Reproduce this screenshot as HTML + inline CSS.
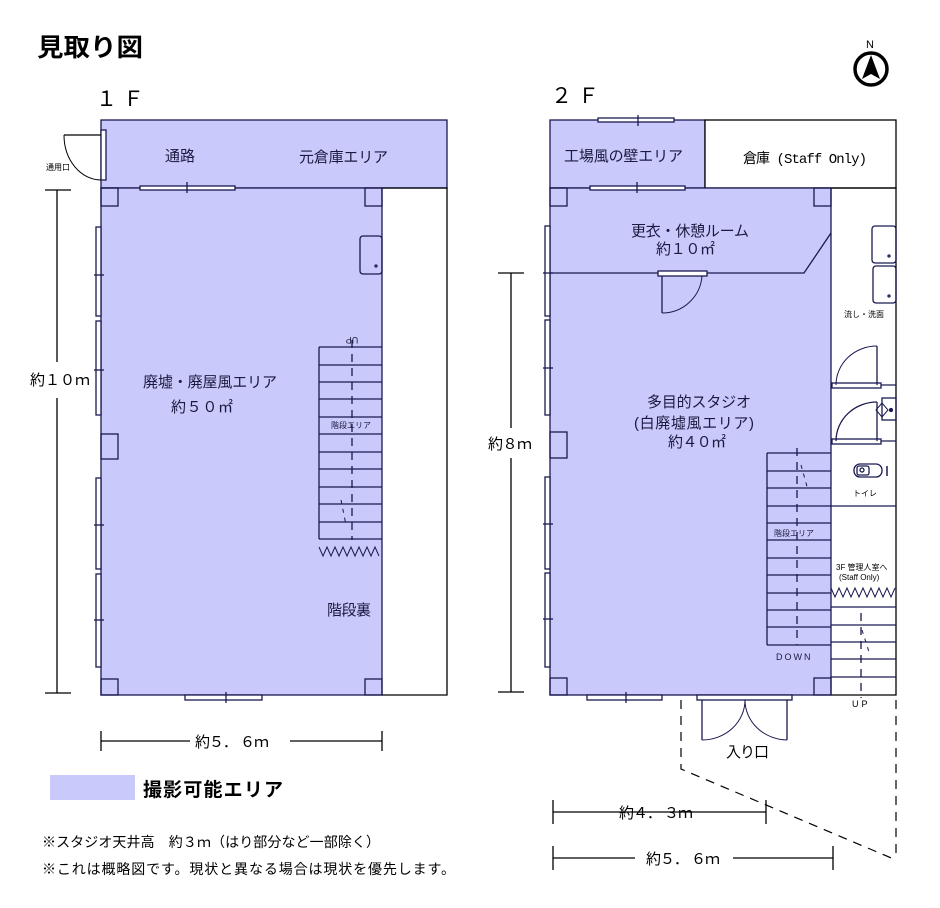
<!DOCTYPE html>
<html><head><meta charset="utf-8"><style>
html,body{margin:0;padding:0;background:#fff;}
svg{display:block;}
text{font-family:"Liberation Sans","Noto Sans CJK JP",sans-serif;fill:#1a1a40;}
</style></head><body>
<svg width="940" height="908" viewBox="0 0 940 908" xmlns="http://www.w3.org/2000/svg">
<g stroke="#1a1a50" stroke-width="1.3" fill="none">
<!-- ===== 1F ===== -->
<rect x="101" y="120" width="346" height="68" fill="#c9c9fb"/>
<rect x="101" y="188" width="281" height="507" fill="#c9c9fb"/>
<polyline points="382,188 447,188 447,695 382,695" stroke="#000"/>
<rect x="101" y="130" width="5" height="50" fill="#fff"/>
<line x1="64" y1="135" x2="101" y2="135" stroke="#000"/>
<path d="M64,135 A37,45 0 0 0 101,180" stroke="#000" stroke-width="1"/>
<rect x="140" y="186" width="95" height="4" fill="#fff"/>
<line x1="187" y1="182" x2="187" y2="193"/>
<rect x="101" y="188" width="17" height="18"/><rect x="365" y="188" width="17" height="18"/>
<rect x="101" y="679" width="17" height="16"/><rect x="365" y="679" width="17" height="16"/>
<rect x="101" y="434" width="17" height="25"/>
<rect x="360" y="236" width="22" height="38" rx="3"/>
<circle cx="376" cy="266" r="1"/>
<rect x="96" y="227" width="5" height="89" fill="#fff"/><rect x="96" y="321" width="5" height="94" fill="#fff"/>
<rect x="96" y="478" width="5" height="91" fill="#fff"/><rect x="96" y="574" width="5" height="93" fill="#fff"/>
<line x1="94" y1="275" x2="104" y2="275"/><line x1="94" y1="370" x2="104" y2="370"/>
<line x1="94" y1="525" x2="104" y2="525"/><line x1="94" y1="620" x2="104" y2="620"/>
<g>
<line x1="319" y1="347" x2="382" y2="347"/><line x1="319" y1="347" x2="319" y2="539"/>
<line x1="319" y1="365" x2="382" y2="365"/><line x1="319" y1="382" x2="382" y2="382"/>
<line x1="319" y1="399" x2="382" y2="399"/><line x1="319" y1="417" x2="382" y2="417"/>
<line x1="319" y1="434" x2="382" y2="434"/><line x1="319" y1="452" x2="382" y2="452"/>
<line x1="319" y1="469" x2="382" y2="469"/><line x1="319" y1="487" x2="382" y2="487"/>
<line x1="319" y1="504" x2="382" y2="504"/><line x1="319" y1="522" x2="382" y2="522"/>
<line x1="319" y1="539" x2="382" y2="539"/>
<line x1="352" y1="340" x2="352" y2="540" stroke-dasharray="8,6"/>
<path d="M319,547 l4,9 4,-9 4,9 4,-9 4,9 4,-9 4,9 4,-9 4,9 4,-9 4,9 4,-9 4,9 4,-9 4,9" stroke-width="1"/>
<line x1="341" y1="500" x2="346" y2="525" stroke-width="1" stroke-dasharray="4,5"/>
</g>
<rect x="185" y="695" width="77" height="5" fill="#fff"/>
<line x1="226" y1="692" x2="226" y2="703"/>
<g stroke="#000">
<line x1="57" y1="190" x2="57" y2="362"/><line x1="57" y1="398" x2="57" y2="693"/>
<line x1="45" y1="190" x2="71" y2="190"/><line x1="45" y1="693" x2="71" y2="693"/>
<line x1="101" y1="741" x2="190" y2="741"/><line x1="290" y1="741" x2="382" y2="741"/>
<line x1="101" y1="731" x2="101" y2="751"/><line x1="382" y1="731" x2="382" y2="751"/>
</g>

<!-- ===== 2F ===== -->
<rect x="550" y="120" width="155" height="68" fill="#c9c9fb"/>
<rect x="705" y="120" width="191" height="68" fill="#fff" stroke="#000"/>
<rect x="550" y="188" width="281" height="507" fill="#c9c9fb"/>
<polyline points="831,188 896,188 896,695 831,695" stroke="#000"/>
<polyline points="550,273 804,273 831,233"/>
<rect x="598" y="118" width="76" height="4" fill="#fff"/><line x1="638" y1="115" x2="638" y2="126"/>
<rect x="590" y="186" width="95" height="4" fill="#fff"/><line x1="637" y1="182" x2="637" y2="193"/>
<rect x="658" y="271" width="49" height="5" fill="#fff"/>
<line x1="662" y1="276" x2="662" y2="313"/>
<path d="M662,313 A40,40 0 0 0 702,276" stroke-width="1"/>
<rect x="550" y="188" width="17" height="18"/><rect x="814" y="188" width="17" height="18"/>
<rect x="550" y="678" width="17" height="17"/><rect x="814" y="678" width="17" height="17"/>
<rect x="550" y="432" width="17" height="26"/>
<rect x="545" y="226" width="5" height="90" fill="#fff"/><rect x="545" y="320" width="5" height="95" fill="#fff"/>
<rect x="545" y="477" width="5" height="92" fill="#fff"/><rect x="545" y="573" width="5" height="94" fill="#fff"/>
<line x1="543" y1="273" x2="553" y2="273"/><line x1="543" y1="368" x2="553" y2="368"/>
<line x1="543" y1="524" x2="553" y2="524"/><line x1="543" y1="619" x2="553" y2="619"/>
<rect x="872" y="226" width="24" height="37" rx="3"/><circle cx="889" cy="256" r="1"/>
<rect x="873" y="266" width="23" height="37" rx="3"/><circle cx="889" cy="296" r="1"/>
<line x1="831" y1="385" x2="896" y2="385"/><rect x="832" y="383" width="49" height="5" fill="#fff"/>
<line x1="877" y1="346" x2="877" y2="385"/><path d="M836,385 A41,39 0 0 1 877,346" stroke-width="1"/>
<line x1="831" y1="441" x2="896" y2="441"/><rect x="832" y="439" width="49" height="5" fill="#fff"/>
<line x1="877" y1="402" x2="877" y2="441"/><path d="M836,441 A41,39 0 0 1 877,402"/>
<rect x="882" y="398" width="14" height="22"/><path d="M876,410 l6,-7 6,7 -6,7z" stroke-width="1"/><circle cx="891" cy="410" r="1.5" fill="#1a1a50"/>
<line x1="831" y1="506" x2="896" y2="506"/>
<rect x="854" y="464" width="28" height="13" rx="6"/><rect x="857" y="466" width="12" height="9" rx="2"/><circle cx="862" cy="470" r="2"/>
<line x1="887" y1="466" x2="887" y2="476" stroke-width="1.5"/>
<path d="M831,588 l4,9 4,-9 4,9 4,-9 4,9 4,-9 4,9 4,-9 4,9 4,-9 4,9 4,-9 4,9 4,-9 4,9 4,-9" stroke-width="1"/>
<line x1="831" y1="607" x2="896" y2="607"/><line x1="831" y1="625" x2="896" y2="625"/>
<line x1="831" y1="642" x2="896" y2="642"/><line x1="831" y1="659" x2="896" y2="659"/>
<line x1="831" y1="677" x2="896" y2="677"/>
<line x1="861" y1="613" x2="861" y2="698" stroke-dasharray="8,6"/>
<line x1="862" y1="630" x2="870" y2="655" stroke-width="1" stroke-dasharray="4,5"/>
<line x1="767" y1="453" x2="831" y2="453"/><line x1="767" y1="453" x2="767" y2="645"/>
<line x1="767" y1="471" x2="831" y2="471"/><line x1="767" y1="488" x2="831" y2="488"/>
<line x1="767" y1="506" x2="831" y2="506"/><line x1="767" y1="523" x2="831" y2="523"/>
<line x1="767" y1="540" x2="831" y2="540"/><line x1="767" y1="558" x2="831" y2="558"/>
<line x1="767" y1="575" x2="831" y2="575"/><line x1="767" y1="593" x2="831" y2="593"/>
<line x1="767" y1="610" x2="831" y2="610"/><line x1="767" y1="627" x2="831" y2="627"/>
<line x1="767" y1="645" x2="831" y2="645"/>
<line x1="797" y1="448" x2="797" y2="645" stroke-dasharray="8,6"/>
<line x1="801" y1="465" x2="808" y2="490" stroke-width="1" stroke-dasharray="4,5"/>
<rect x="587" y="695" width="75" height="5" fill="#fff"/><line x1="626" y1="692" x2="626" y2="703"/>
<rect x="697" y="695" width="95" height="5" fill="#fff"/>
<line x1="702" y1="700" x2="702" y2="740"/><line x1="787" y1="700" x2="787" y2="740"/>
<path d="M702,740 A43,40 0 0 0 745,700" stroke-width="1"/>
<path d="M787,740 A43,40 0 0 1 745,700" stroke-width="1"/>
<g stroke="#000" stroke-dasharray="9,7" stroke-width="1.2">
<polyline points="681,700 681,769 896,860"/>
<line x1="896" y1="700" x2="896" y2="860"/>
</g>
<g stroke="#000">
<line x1="511" y1="273" x2="511" y2="428"/><line x1="511" y1="458" x2="511" y2="692"/>
<line x1="498" y1="273" x2="524" y2="273"/><line x1="498" y1="692" x2="524" y2="692"/>
<line x1="553" y1="812" x2="766" y2="812"/>
<line x1="553" y1="800" x2="553" y2="824"/><line x1="766" y1="800" x2="766" y2="824"/>
<line x1="553" y1="858" x2="635" y2="858"/><line x1="733" y1="858" x2="833" y2="858"/>
<line x1="553" y1="846" x2="553" y2="870"/><line x1="833" y1="846" x2="833" y2="870"/>
</g>
</g>
<rect x="50" y="775" width="85" height="25" fill="#c9c9fb"/>
<circle cx="871" cy="69" r="16" fill="none" stroke="#000" stroke-width="3.5"/>
<path d="M871,55 L880,79 L871,74 L862,79 Z" fill="#000"/>

<g>
<text x="37" y="56" font-size="25" font-weight="bold" textLength="106" lengthAdjust="spacingAndGlyphs" style="fill:#000">見取り図</text>
<text x="96" y="106" font-size="21" style="fill:#000">１ Ｆ</text>
<text x="551" y="103" font-size="21" style="fill:#000">２ Ｆ</text>
<text x="866" y="48" font-size="11" style="fill:#000">N</text>
<text x="46" y="170" font-size="8" style="fill:#000">通用口</text>
<text x="165" y="161" font-size="15" textLength="30">通路</text>
<text x="299" y="162" font-size="15" textLength="89">元倉庫エリア</text>
<text x="143" y="387" font-size="15" textLength="134">廃墟・廃屋風エリア</text>
<text x="171" y="412" font-size="15" textLength="62">約５０㎡</text>
<text x="352" y="329" font-size="9" text-anchor="middle" transform="rotate(180 352 333)">UP</text>
<text x="331" y="428" font-size="8">階段エリア</text>
<text x="327" y="615" font-size="15" textLength="44">階段裏</text>
<text x="30" y="385" font-size="15" textLength="60" style="fill:#000">約１０ｍ</text>
<text x="195" y="747" font-size="15" textLength="74" style="fill:#000">約５． ６ｍ</text>
<text x="564" y="161" font-size="15" textLength="119">工場風の壁エリア</text>
<text x="743" y="163" font-size="14" textLength="124" style="fill:#000;font-family:'Liberation Mono','Noto Sans CJK JP',monospace">倉庫 (Staff Only)</text>
<text x="631" y="236" font-size="15" textLength="118">更衣・休憩ルーム</text>
<text x="656" y="254" font-size="15" textLength="59">約１０㎡</text>
<text x="647" y="407" font-size="15" textLength="104">多目的スタジオ</text>
<text x="634" y="428" font-size="15" textLength="120">(白廃墟風エリア)</text>
<text x="668" y="447" font-size="15" textLength="58">約４０㎡</text>
<text x="488" y="449" font-size="15" textLength="44" style="fill:#000">約８ｍ</text>
<text x="844" y="317" font-size="8" style="fill:#000">流し・洗面</text>
<text x="853" y="496" font-size="8" style="fill:#000">トイレ</text>
<text x="836" y="570" font-size="8" style="fill:#000">3F 管理人室へ</text>
<text x="839" y="580" font-size="8" style="fill:#000">(Staff Only)</text>
<text x="774" y="536" font-size="8">階段エリア</text>
<text x="776" y="660" font-size="9" letter-spacing="2">DOWN</text>
<text x="852" y="707" font-size="9" letter-spacing="3" style="fill:#000">UP</text>
<text x="726" y="757" font-size="15" textLength="43" style="fill:#000">入り口</text>
<text x="619" y="818" font-size="15" textLength="74" style="fill:#000">約４． ３ｍ</text>
<text x="646" y="864" font-size="15" textLength="74" style="fill:#000">約５． ６ｍ</text>
<text x="143" y="796" font-size="19" font-weight="bold" textLength="140" style="fill:#000">撮影可能エリア</text>
<text x="42" y="847" font-size="14" textLength="338" style="fill:#000">※スタジオ天井高　約３ｍ（はり部分など一部除く）</text>
<text x="42" y="874" font-size="14" textLength="413" style="fill:#000">※これは概略図です。現状と異なる場合は現状を優先します。</text>
</g>
</svg>
</body></html>
